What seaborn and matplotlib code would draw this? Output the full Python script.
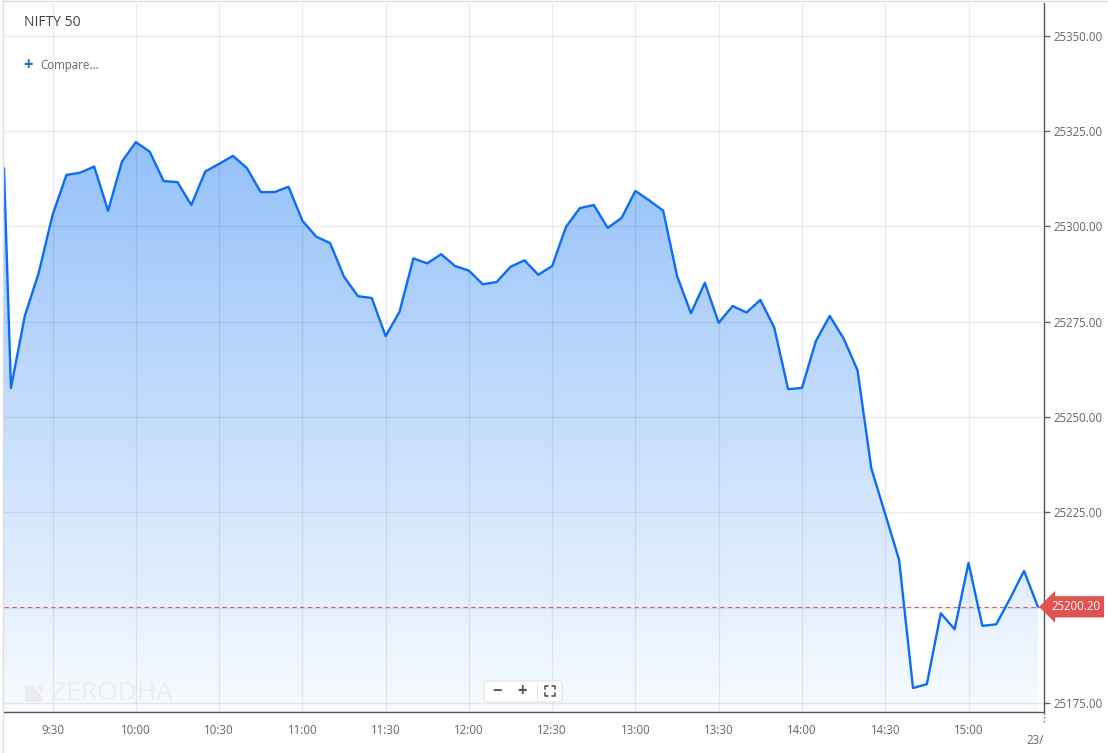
import numpy as np
import pandas as pd
import seaborn as sns
import matplotlib.pyplot as plt
import matplotlib.transforms as mtransforms
from matplotlib.colors import LinearSegmentedColormap
from matplotlib.patches import FancyBboxPatch, Polygon
from matplotlib.lines import Line2D

sns.set_style("white")
plt.rcParams['font.family'] = ['Open Sans', 'DejaVu Sans']

# NIFTY 50 intraday, opening tick + 5-minute closes
times = ["09:12:30"] + [t.strftime("%H:%M:00") for t in pd.date_range("09:15", "15:25", freq="5min")]
prices = [
    25315.3, 25257.6, 25276.5, 25287.8, 25303.0, 25313.5, 25314.1, 25315.7, 25304.1, 25317.0,
    25322.1, 25319.6, 25311.9, 25311.6, 25305.6, 25314.4, 25316.4, 25318.5, 25315.3, 25309.0,
    25309.0, 25310.4, 25301.5, 25297.3, 25295.6, 25286.8, 25281.7, 25281.2, 25271.2, 25277.6,
    25291.6, 25290.3, 25292.7, 25289.6, 25288.4, 25284.8, 25285.4, 25289.4, 25291.1, 25287.3,
    25289.6, 25299.9, 25304.8, 25305.6, 25299.6, 25302.2, 25309.3, 25306.8, 25304.1, 25287.0,
    25277.2, 25285.2, 25274.7, 25279.1, 25277.4, 25280.7, 25273.5, 25257.3, 25257.6, 25269.9,
    25276.5, 25270.6, 25262.3, 25236.5, 25224.5, 25212.5, 25178.9, 25179.9, 25198.5, 25194.3,
    25211.7, 25195.2, 25195.6, 25202.4, 25209.6, 25200.2,
]
last_price = 25200.20

xtick_labels = ["9:30", "10:00", "10:30", "11:00", "11:30", "12:00",
                "12:30", "13:00", "13:30", "14:00", "14:30", "15:00"]
ytick_values = [25175, 25200, 25225, 25250, 25275, 25300, 25325, 25350]

df = pd.DataFrame({
    "minute": pd.to_timedelta(times).total_seconds() / 60,
    "price": prices,
})
xtick_pos = [int(h) * 60 + int(m) for h, m in (s.split(":") for s in xtick_labels)]

W, H = 1108, 753


def fx(x):
    return x / W


def fy(y):
    return 1 - y / H


fig = plt.figure(figsize=(W / 100, H / 100), dpi=100)
ax = fig.add_axes([fx(4), fy(712), (1044 - 4) / W, (712 - 3) / H])

x0, x1 = 9 * 60 + 12.5, 15 * 60 + 27.2
y0, y1 = 25172.6, 25358.6

# gradient area under the line
fill = ax.fill_between(df["minute"], df["price"], y0, facecolor="none", edgecolor="none")
cmap = LinearSegmentedColormap.from_list("area", ["#f8fbff", "#94c1fa"])
grad = np.linspace(0, 1, 256).reshape(-1, 1)
im = ax.imshow(grad, extent=[x0, x1, y0, max(prices)], aspect="auto", cmap=cmap,
               origin="lower", zorder=1)
im.set_clip_path(fill.get_paths()[0], transform=ax.transData)

sns.lineplot(data=df, x="minute", y="price", color="#0d6cf7", lw=1.7, ax=ax, zorder=4)

ax.axhline(last_price, color="#c46a6a", lw=0.8, ls=(0, (4, 3)), zorder=3)

ax.set_xlim(x0, x1)
ax.set_ylim(y0, y1)
ax.set_xticks(xtick_pos)
ax.set_xticklabels(xtick_labels)
ax.set_yticks(ytick_values)
# the 25200 label sits under the last-price tag
ax.set_yticklabels(["" if v == 25200 else f"{v:.2f}" for v in ytick_values])
ax.yaxis.tick_right()
ax.set_xlabel("")
ax.set_ylabel("")
ax.grid(True, color="black", alpha=0.075, lw=1, zorder=2)
ax.set_axisbelow(False)
for s in ["top", "left"]:
    ax.spines[s].set_visible(False)
for s in ["right", "bottom"]:
    ax.spines[s].set_color("#555555")
    ax.spines[s].set_linewidth(1)
ax.tick_params(axis="y", length=4, width=1, color="#666666", pad=3,
               labelsize=8.3, labelcolor="#666666")
ax.tick_params(axis="x", length=5, width=1, color="#666666", pad=4,
               labelsize=8.3, labelcolor="#666666")

# last price tag
trans = mtransforms.blended_transform_factory(ax.transAxes, ax.transData)
ax.annotate(f"{last_price:.2f}", xy=(1.0, last_price), xycoords=trans, xytext=(5, 0),
            textcoords="offset points", ha="left", va="center", color="white",
            fontsize=8.3, annotation_clip=False, zorder=6,
            bbox=dict(boxstyle="larrow,pad=0.36", fc="#e0534f", ec="none"))

# titles
fig.text(fx(24), fy(23), "NIFTY 50", fontsize=10, color="#444444", va="center")
fig.text(fx(23), fy(65), "+", fontsize=12, color="#1f6fd1", va="center", fontweight="bold")
fig.text(fx(40), fy(65), "Compare...", fontsize=8.3, color="#666666", va="center")

# watermark
fig.add_artist(Polygon([(fx(25), fy(686)), (fx(33), fy(686)), (fx(42), fy(697)),
                        (fx(42), fy(702)), (fx(25), fy(702))],
                       closed=True, fc="#ececec", ec="none", transform=fig.transFigure))
fig.add_artist(Polygon([(fx(36), fy(686)), (fx(42), fy(686)), (fx(42), fy(693))],
                       closed=True, fc="#ececec", ec="none", transform=fig.transFigure))
fig.text(fx(51), fy(694), "ZERODHA", fontsize=19, color="#ececec", va="center")

# zoom controls
fig.add_artist(FancyBboxPatch((fx(484), fy(702)), fx(78), 21 / H,
                              boxstyle="round,pad=0,rounding_size=0.003",
                              fc="white", ec="#e4e4e4", lw=0.8, transform=fig.transFigure,
                              zorder=7))
fig.text(fx(497), fy(691), "\u2212", fontsize=12, color="#555555", ha="center", va="center",
         fontweight="bold", zorder=8)
fig.text(fx(522), fy(691), "+", fontsize=12, color="#555555", ha="center", va="center",
         fontweight="bold", zorder=8)
fig.add_artist(Line2D([fx(537), fx(537)], [fy(684), fy(699)], color="#e0e0e0", lw=0.8,
                      transform=fig.transFigure, zorder=8))
for cx, cy, dx, dy in [(545, 686, 1, 1), (555, 686, -1, 1), (545, 696, 1, -1), (555, 696, -1, -1)]:
    fig.add_artist(Line2D([fx(cx), fx(cx), fx(cx + 3 * dx)],
                          [fy(cy + 3 * dy), fy(cy), fy(cy)],
                          color="#555555", lw=1.2, transform=fig.transFigure, zorder=8))

# widget borders and date stub
fig.add_artist(Line2D([fx(3), fx(3)], [0, 1], color="#dddddd", lw=1, transform=fig.transFigure))
fig.add_artist(Line2D([fx(3), 1], [fy(1), fy(1)], color="#dddddd", lw=1, transform=fig.transFigure))
fig.add_artist(Line2D([fx(1044), fx(1044)], [fy(713), fy(724)], color="#666666", lw=1,
                      ls=":", transform=fig.transFigure))
fig.text(fx(1044), fy(741), "23/", fontsize=8.3, color="#666666", ha="right", va="center")

fig.savefig("out.png", dpi=100)
